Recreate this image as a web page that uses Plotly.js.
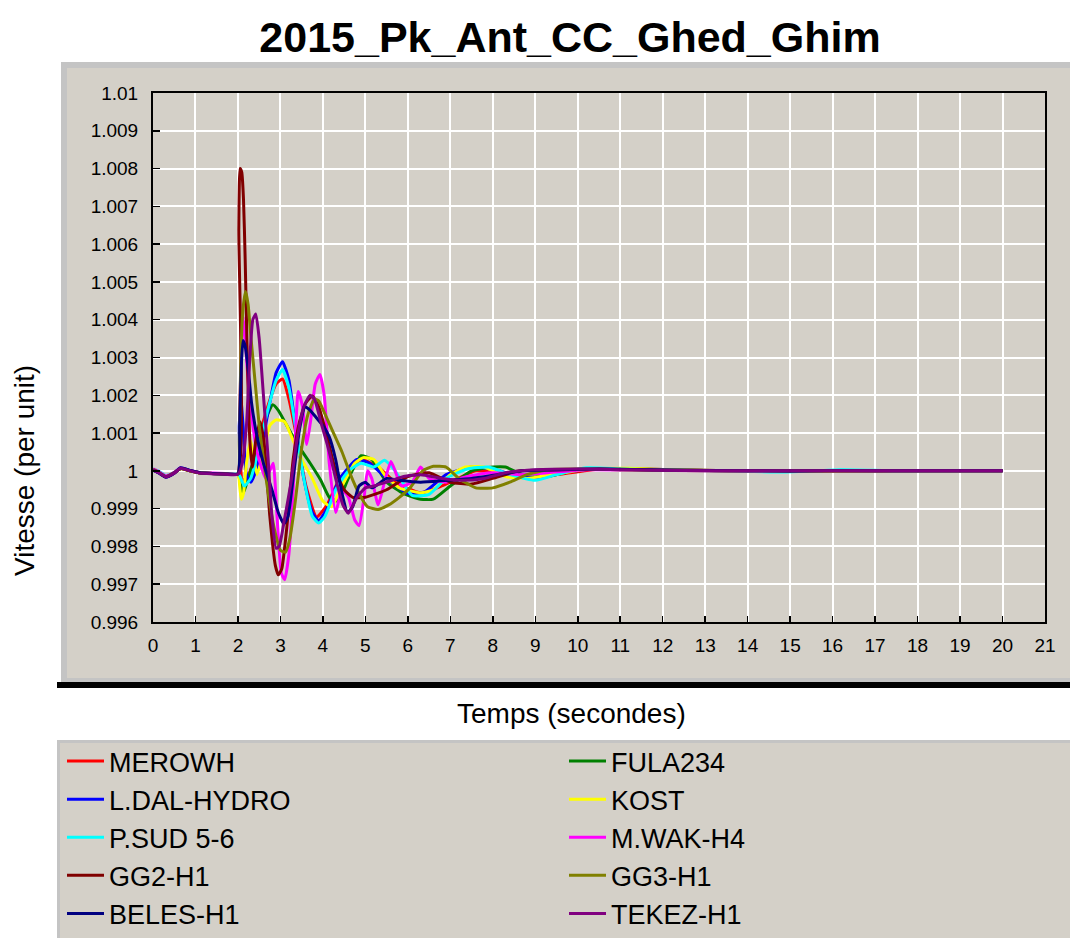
<!DOCTYPE html>
<html>
<head>
<meta charset="utf-8">
<script src="https://cdn.plot.ly/plotly-3.0.1.min.js"></script>
<style>html,body{margin:0;padding:0;background:#fff;overflow:hidden}#chart{width:1070px;height:938px}</style>
</head>
<body>
<div id="chart"></div>
<script>
// ---------- DATA ----------
const seriesNames = ["MEROWH","FULA234","L.DAL-HYDRO","KOST","P.SUD 5-6","M.WAK-H4","GG2-H1","GG3-H1","BELES-H1","TEKEZ-H1"];
const seriesColors = ["#ff0000","#008000","#0000ff","#ffff00","#00ffff","#ff00ff","#800000","#808000","#000080","#800080"];
const legendColumn = [1,2,1,2,1,2,1,2,1,2];

const xTickVals = [0,1,2,3,4,5,6,7,8,9,10,11,12,13,14,15,16,17,18,19,20,21];
const yTickVals = [0.996,0.997,0.998,0.999,1.000,1.001,1.002,1.003,1.004,1.005,1.006,1.007,1.008,1.009,1.010];
const yTickText = ["0.996","0.997","0.998","0.999","1","1.001","1.002","1.003","1.004","1.005","1.006","1.007","1.008","1.009","1.01"];

const t_MEROWH = [0,0.15,0.3,0.5,0.65,0.85,1.1,1.4,1.7,2.0,
  2.05,2.1,2.2,2.35,2.5,2.7,2.9,3.05,3.2,3.4,
  3.6,3.85,4.1,4.4,4.9,5.3,5.7,6.3,6.8,7.6,
  8.2,8.8,9.4,10.5,11.5,12.5,14,16,18,20];
const v_MEROWH = [1.00003,0.99996,0.99986,0.99995,1.00006,1.00001,0.99995,0.99993,0.99992,0.99992,
  1.0003,0.99975,0.9998,1.0002,1.0009,1.0017,1.0023,1.00243,1.0019,1.0008,
  0.9996,0.99878,0.9991,0.9998,1.0003,1.0001,0.9997,0.99942,0.9996,1.0,
  0.99993,0.99982,0.99988,1.00005,1.00005,1.00002,1.0,1.0,1.0,1.0];

const t_FULA234 = [0,0.15,0.3,0.5,0.65,0.85,1.1,1.4,1.7,2.0,
  2.05,2.12,2.2,2.35,2.55,2.7,2.82,2.95,3.15,3.4,
  3.7,3.95,4.15,4.35,4.6,4.9,5.15,5.5,5.9,6.3,
  6.6,7.0,7.5,8.0,8.3,8.8,9.3,10,11,12,
  13.5,15,17,20];
const v_FULA234 = [1.00003,0.99995,0.99985,0.99995,1.00006,1.00001,0.99995,0.99993,0.99992,0.99992,
  0.9997,0.9994,0.99965,1.0002,1.001,1.0015,1.00175,1.0016,1.0012,1.0007,
  1.0002,0.99975,0.9993,0.9992,0.9998,1.0004,1.0003,0.9997,0.9994,0.99925,
  0.99925,0.9996,1.0,1.0001,1.0001,0.99985,0.99985,1.00003,1.00006,1.00003,
  1.0,1.0,1.0,1.0];

const t_LDAL = [0,0.15,0.3,0.5,0.65,0.85,1.1,1.4,1.7,2.0,
  2.03,2.07,2.12,2.2,2.3,2.45,2.6,2.75,2.9,3.05,
  3.2,3.35,3.55,3.75,3.9,4.1,4.4,4.8,5.1,5.5,
  6.0,6.4,6.9,7.5,8.0,8.6,9.1,9.6,10.5,11.5,
  12.5,14,16,18,20];
const v_LDAL = [1.00002,0.99994,0.99984,0.99994,1.00007,1.00002,0.99995,0.99993,0.99992,0.99992,
  1.0012,1.0019,1.0012,0.9999,0.9997,1.0001,1.0009,1.0018,1.0026,1.00289,
  1.0024,1.0012,0.9998,0.9989,0.99868,0.999,0.9998,1.0003,1.0002,0.9998,
  0.9994,0.99945,0.9999,1.0001,1.00005,0.99985,0.9998,0.99995,1.00006,1.00005,
  1.00002,1.0,1.0,1.0,1.0];

const t_KOST = [0,0.15,0.3,0.5,0.65,0.85,1.1,1.4,1.7,2.0,
  2.04,2.08,2.13,2.2,2.3,2.38,2.45,2.6,2.75,2.9,
  3.1,3.3,3.5,3.75,4.0,4.2,4.45,4.75,4.95,5.2,
  5.45,5.8,6.3,6.6,7.0,7.35,7.8,8.3,8.8,9.4,
  10.2,11.2,12.2,13.6,15,17,20];
const v_KOST = [1.00003,0.99995,0.99985,0.99995,1.00006,1.00001,0.99995,0.99993,0.99992,0.99992,
  0.9996,0.99925,0.9994,1.0002,1.0008,1.0003,0.9999,1.0005,1.0012,1.00135,
  1.0013,1.0008,1.0003,0.9998,0.9992,0.99905,0.9996,1.0002,1.00035,1.0003,
  0.9999,0.99955,0.99942,0.9995,0.9999,1.0001,1.0001,0.99985,0.9998,0.9999,
  1.00004,1.00007,1.00003,1.0,0.99998,1.0,1.0];

const t_PSUD = [0,0.15,0.3,0.5,0.65,0.85,1.1,1.4,1.7,2.0,
  2.05,2.15,2.3,2.45,2.7,2.9,3.05,3.2,3.35,3.55,
  3.75,3.9,4.05,4.3,4.6,4.9,5.2,5.45,5.7,6.1,
  6.5,6.9,7.4,7.9,8.4,9.0,9.5,10.2,11,12,
  13.5,14.9,16.2,17.5,20];
const v_PSUD = [1.00005,0.99998,0.99988,0.99996,1.00008,1.00002,0.99996,0.99993,0.99992,0.99992,
  0.99985,0.9996,0.9998,1.0004,1.0016,1.0024,1.00268,1.0022,1.0012,0.9998,
  0.9988,0.99862,0.9988,0.9995,1.0,1.0002,1.0001,1.00028,1.0,0.99935,
  0.99938,0.9998,1.00005,1.0001,0.9999,0.99975,0.9999,1.00008,1.00005,1.00002,
  1.0,0.99997,1.00003,1.0,1.0];

const t_MWAK = [0,0.15,0.3,0.5,0.65,0.85,1.1,1.4,1.7,2.0,
  2.04,2.08,2.12,2.17,2.25,2.35,2.45,2.55,2.65,2.75,
  2.83,2.92,3.02,3.1,3.2,3.3,3.42,3.52,3.62,3.72,
  3.82,3.93,4.03,4.15,4.3,4.45,4.6,4.75,4.85,4.97,
  5.05,5.15,5.3,5.45,5.6,5.7,5.85,6.1,6.3,6.5,
  6.9,7.4,8.0,8.6,9.3,10.2,11.5,13,15,17,20];
const v_MWAK = [1.00005,0.99997,0.99987,0.99996,1.00008,1.00002,0.99996,0.99994,0.99993,0.99993,
  1.0015,1.0032,1.0041,1.0035,1.0022,1.0012,1.0005,1.0001,0.9998,1.0,
  1.0002,0.9988,0.9973,0.99712,0.9978,0.9995,1.0021,1.0017,1.0007,1.0014,
  1.0023,1.00255,1.002,1.0002,0.9989,0.9995,0.9993,0.9987,0.99855,0.9993,
  1.0,0.9998,0.9991,0.9997,1.00025,1.0,0.9996,0.9997,1.0001,0.9998,
  0.9997,0.99985,0.99995,0.9999,0.99995,1.00003,1.00002,1.0,1.0,1.0,1.0];

const t_GG2 = [0,0.15,0.3,0.5,0.65,0.85,1.1,1.4,1.7,2.0,
  2.02,2.05,2.09,2.13,2.17,2.22,2.28,2.34,2.42,2.52,
  2.62,2.75,2.88,2.95,3.03,3.15,3.3,3.45,3.6,3.75,
  3.9,4.1,4.3,4.5,4.7,5.0,5.5,6.0,6.5,7.0,
  7.5,8.0,8.6,9.3,10.5,12,14,16,18,20];
const v_GG2 = [1.00003,0.99995,0.99985,0.99995,1.00006,1.00001,0.99995,0.99993,0.99992,0.99992,
  1.0064,1.008,1.0079,1.0072,1.0056,1.003,1.0008,1.0001,1.0008,1.0013,
  1.0007,0.9988,0.9975,0.99725,0.9974,0.9985,1.0003,1.0013,1.0018,1.00198,
  1.0017,1.0009,1.0,0.9995,0.9993,0.9993,0.9995,0.99985,0.99995,0.9997,
  0.99965,0.9998,1.0,1.00002,1.00005,1.00002,1.0,1.0,1.0,1.0];

const t_GG3 = [0,0.15,0.3,0.5,0.65,0.85,1.1,1.4,1.7,2.0,
  2.03,2.07,2.12,2.18,2.24,2.3,2.4,2.5,2.6,2.7,
  2.85,3.0,3.12,3.22,3.35,3.5,3.65,3.8,3.9,4.05,
  4.25,4.45,4.65,4.85,5.05,5.3,5.55,5.8,6.05,6.35,
  6.6,6.9,7.2,7.6,8.0,8.4,8.8,9.3,10,11,
  12.5,14,16,18,20];
const v_GG3 = [1.00003,0.99995,0.99985,0.99995,1.00006,1.00001,0.99995,0.99993,0.99992,0.99992,
  1.0008,1.0031,1.0043,1.00475,1.0044,1.0036,1.0024,1.0012,1.0003,0.9995,
  0.9985,0.9979,0.99785,0.9982,0.9992,1.0006,1.0015,1.0019,1.00185,1.0015,
  1.001,1.0005,0.9999,0.9994,0.99905,0.99898,0.9991,0.9993,0.99955,1.0,
  1.00012,1.0001,0.9998,0.99955,0.99955,0.9997,0.9999,1.00003,1.00005,1.00003,
  1.00001,1.0,1.0,1.0,1.0];

const t_BELES = [0,0.15,0.3,0.5,0.65,0.85,1.1,1.4,1.7,2.0,
  2.04,2.08,2.12,2.17,2.25,2.32,2.45,2.6,2.8,2.95,
  3.08,3.18,3.3,3.45,3.58,3.7,3.85,4.0,4.15,4.3,
  4.45,4.58,4.7,4.85,5.0,5.15,5.3,5.5,5.8,6.3,
  6.9,7.5,8.1,8.7,9.5,10.5,12,14,16,18,20];
const v_BELES = [1.00002,0.99993,0.99983,0.99994,1.00008,1.00002,0.99995,0.99993,0.99992,0.99992,
  1.0012,1.0028,1.00345,1.0033,1.0026,1.0018,1.0009,1.0002,0.9995,0.9989,
  0.9986,0.9988,0.9998,1.0011,1.0017,1.0016,1.0014,1.0012,1.0009,1.0003,
  0.9994,0.9989,0.99905,0.9996,0.9997,0.99955,0.99965,0.9998,0.99975,0.9997,
  0.99975,0.9998,0.9999,1.0,1.00003,1.00005,1.00002,1.0,1.0,1.0,1.0];

const t_TEKEZ = [0,0.15,0.3,0.5,0.65,0.85,1.1,1.4,1.7,2.0,
  2.1,2.2,2.28,2.35,2.42,2.5,2.6,2.7,2.8,2.9,
  2.97,3.1,3.25,3.4,3.55,3.7,3.8,3.95,4.15,4.3,
  4.47,4.6,4.8,5.0,5.2,5.5,5.9,6.3,6.8,7.3,
  7.8,8.3,9.0,10,11,12.5,14,16,18,20];
const v_TEKEZ = [1.00002,0.99994,0.99984,0.99994,1.00007,1.00001,0.99994,0.99992,0.99991,0.99991,
  1.0002,1.0012,1.003,1.004,1.00415,1.0035,1.002,1.0005,0.9988,0.99795,
  0.998,0.99875,0.9997,1.0009,1.0017,1.002,1.0019,1.0013,1.0005,0.9998,
  0.9991,0.99888,0.9993,0.99955,0.9996,0.9997,0.99985,0.9999,0.9998,0.99975,
  0.9998,0.99995,1.00003,1.00005,1.00003,1.00001,1.0,1.0,1.0,1.0];

const seriesT = [t_MEROWH,t_FULA234,t_LDAL,t_KOST,t_PSUD,t_MWAK,t_GG2,t_GG3,t_BELES,t_TEKEZ];
const seriesV = [v_MEROWH,v_FULA234,v_LDAL,v_KOST,v_PSUD,v_MWAK,v_GG2,v_GG3,v_BELES,v_TEKEZ];

// ---------- LAYOUT ----------
const W = 1070, H = 938;
const L = 153, R = 1045, T = 93, B = 622;
const px2x = p => (p - L) / (R - L);
const py2y = p => (B - p) / (B - T);
const FONT = "Liberation Sans, Arial, sans-serif";

const traces = seriesNames.map((n, i) => ({
  type: "scatter", mode: "lines", name: n,
  x: seriesT[i], y: seriesV[i],
  legend: legendColumn[i] === 1 ? "legend" : "legend2",
  line: {color: seriesColors[i], width: 3, shape: "spline", smoothing: 0.5}
}));

const shapes = [
  {type:"rect", xref:"paper", yref:"paper", x0:px2x(61), x1:px2x(1070), y0:py2y(683), y1:py2y(62), fillcolor:"#c4c4c4", line:{width:0}, layer:"below"},
  {type:"rect", xref:"paper", yref:"paper", x0:px2x(67), x1:px2x(1070), y0:py2y(678), y1:py2y(68), fillcolor:"#d4d0c8", line:{width:0}, layer:"below"},
  {type:"rect", xref:"paper", yref:"paper", x0:px2x(57), x1:px2x(1070), y0:py2y(688), y1:py2y(682), fillcolor:"#000000", line:{width:0}, layer:"below"},
  {type:"rect", xref:"paper", yref:"paper", x0:px2x(57), x1:px2x(1070), y0:py2y(938), y1:py2y(740), fillcolor:"#c4c4c4", line:{width:0}, layer:"below"},
  {type:"rect", xref:"paper", yref:"paper", x0:px2x(60), x1:px2x(1070), y0:py2y(938), y1:py2y(743), fillcolor:"#d4d0c8", line:{width:0}, layer:"below"}
];

const axisCommon = {
  showgrid: true, gridcolor: "#ffffff", gridwidth: 2,
  zeroline: false, showline: true, linecolor: "#000000", linewidth: 2, mirror: true,
  ticks: "inside", tickcolor: "#000000", tickwidth: 1.5,
  tickfont: {family: FONT, size: 19, color: "#000000"}
};

// each column is a one-entry-per-row horizontal legend placed in container coordinates
const legendCommon = {
  orientation: "h", xref: "container", yref: "container", y: 1 - 737 / H, xanchor: "left", yanchor: "top",
  bgcolor: "rgba(0,0,0,0)", borderwidth: 0, entrywidth: 450, entrywidthmode: "pixels",
  font: {family: FONT, size: 27, color: "#000000"}, itemwidth: 37, traceorder: "normal"
};

const layout = {
  width: W, height: H, autosize: false,
  paper_bgcolor: "#ffffff", plot_bgcolor: "#d4d0c8",
  margin: {l: L, r: W - R, t: T, b: H - B, pad: 0},
  title: {text: "<b>2015_Pk_Ant_CC_Ghed_Ghim</b>", font: {family: FONT, size: 43, color: "#000000"},
          x: 570 / W, xref: "container", xanchor: "center", y: 1 - 37 / H, yref: "container", yanchor: "middle"},
  xaxis: Object.assign({}, axisCommon, {range: [0, 21], tickmode: "array", tickvals: xTickVals, ticklen: 6, ticklabelstandoff: 5}),
  yaxis: Object.assign({}, axisCommon, {range: [0.996, 1.01], tickmode: "array", tickvals: yTickVals, ticktext: yTickText, ticklen: 7, ticklabelstandoff: 9}),
  showlegend: true,
  legend: Object.assign({}, legendCommon, {x: 62 / W}),
  legend2: Object.assign({}, legendCommon, {x: 564 / W}),
  shapes: shapes,
  annotations: [
    {text: "Temps (secondes)", xref: "paper", yref: "paper", x: px2x(571), y: py2y(713), xanchor: "center", yanchor: "middle", showarrow: false, font: {family: FONT, size: 28, color: "#000000"}},
    {text: "Vitesse (per unit)", xref: "paper", yref: "paper", x: px2x(25), y: py2y(471), xanchor: "center", yanchor: "middle", textangle: -90, showarrow: false, font: {family: FONT, size: 28, color: "#000000"}}
  ]
};

Plotly.newPlot("chart", traces, layout, {staticPlot: true, displayModeBar: false});
</script>
</body>
</html>
